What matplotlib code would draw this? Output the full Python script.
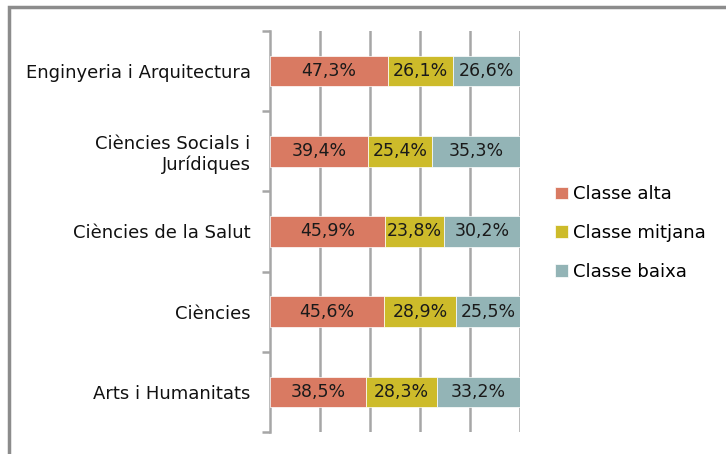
import matplotlib.pyplot as plt
import matplotlib.patches as patches
import numpy as np

# Data
categories = ['Enginyeria i Arquitectura', 'Ciències Socials i\nJurídiques',
              'Ciències de la Salut', 'Ciències', 'Arts i Humanitats']
alta = [47.3, 39.4, 45.9, 45.6, 38.5]
mitjana = [26.1, 25.4, 23.8, 28.9, 28.3]
baixa = [26.6, 35.3, 30.2, 25.5, 33.2]
series_names = ['Classe alta', 'Classe mitjana', 'Classe baixa']
colors = ['#D97A62', '#CDBB2A', '#93B4B6']

plt.rcParams['font.family'] = ['DejaVu Sans']

fig = plt.figure(figsize=(7.26, 4.54), dpi=100)
fig.patch.set_facecolor('white')
# outer chart frame (cropped on right/bottom)
fig.patches.append(patches.Rectangle((9 / 726, -0.1), 1.2, (454 - 7) / 454 + 0.1,
                                     transform=fig.transFigure, fill=False,
                                     edgecolor='#8c8c8c', linewidth=2.5))

ax = fig.add_axes([270 / 726, 1 - 432 / 454, 250 / 726, (432 - 31) / 454])

y = np.arange(len(categories))[::-1]
left = np.zeros(len(categories))
for vals, name, col in zip([alta, mitjana, baixa], series_names, colors):
    vals = np.array(vals)
    ax.barh(y, vals, left=left, height=0.38, color=col, label=name,
            edgecolor='white', linewidth=0.5, zorder=3)
    for yy, l, v in zip(y, left, vals):
        ax.text(l + v / 2, yy, f'{v:.1f}%'.replace('.', ','), ha='center', va='center',
                fontsize=12.5, color='#1a1a1a', zorder=4)
    left = left + vals

ax.set_xlim(0, 100)
ax.set_ylim(-0.5, len(categories) - 0.5)
ax.set_xticks([20, 40, 60, 80, 100])
ax.xaxis.grid(True, color='#a6a6a6', linewidth=1.8, zorder=0)
ax.tick_params(axis='x', length=0, labelbottom=False)

# left axis with ticks at category boundaries
ax.set_yticks(np.arange(-0.5, len(categories), 1.0))
ax.set_yticklabels([])
ax.set_yticks(y, minor=True)
ax.set_yticklabels(categories, minor=True, fontsize=13, ha='right', linespacing=1.15)
ax.tick_params(axis='y', which='major', length=6, width=1.8, color='#a6a6a6', direction='out')
ax.tick_params(axis='y', which='minor', length=0, pad=14, labelcolor='#111111')
for s in ['top', 'right', 'bottom']:
    ax.spines[s].set_visible(False)
ax.spines['left'].set_color('#a6a6a6')
ax.spines['left'].set_linewidth(1.8)

handles, labels = ax.get_legend_handles_labels()
leg = fig.legend(handles, labels, loc='center left', bbox_to_anchor=(539 / 726, 1 - 233 / 454),
                 frameon=False, fontsize=13, handlelength=0.7, handleheight=0.7,
                 handletextpad=0.3, labelspacing=1.15)

fig.savefig('out.png', dpi=100)
